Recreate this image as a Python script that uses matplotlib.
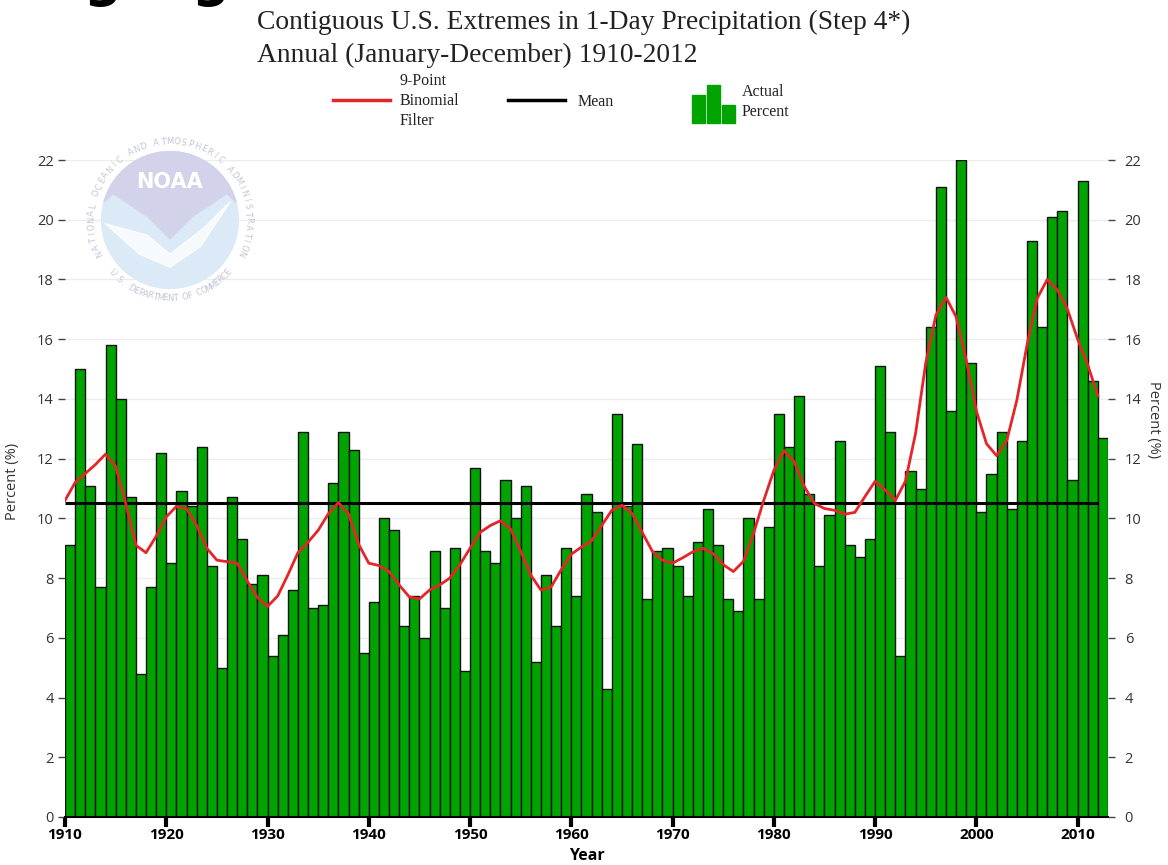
import numpy as np
import matplotlib
matplotlib.use("Agg")
import matplotlib.pyplot as plt
from matplotlib.patches import Circle, Polygon, Rectangle
from matplotlib.lines import Line2D

# annual percent of the contiguous U.S. in extreme 1-day precipitation
years = list(range(1910, 2013))
actual_pct = [
    9.1, 15.0, 11.1, 7.7, 15.8, 14.0, 10.7, 4.8, 7.7, 12.2,
    8.5, 10.9, 10.4, 12.4, 8.4, 5.0, 10.7, 9.3, 7.8, 8.1,
    5.4, 6.1, 7.6, 12.9, 7.0, 7.1, 11.2, 12.9, 12.3, 5.5,
    7.2, 10.0, 9.6, 6.4, 7.4, 6.0, 8.9, 7.0, 9.0, 4.9,
    11.7, 8.9, 8.5, 11.3, 10.0, 11.1, 5.2, 8.1, 6.4, 9.0,
    7.4, 10.8, 10.2, 4.3, 13.5, 10.4, 12.5, 7.3, 8.9, 9.0,
    8.4, 7.4, 9.2, 10.3, 9.1, 7.3, 6.9, 10.0, 7.3, 9.7,
    13.5, 12.4, 14.1, 10.8, 8.4, 10.1, 12.6, 9.1, 8.7, 9.3,
    15.1, 12.9, 5.4, 11.6, 11.0, 16.4, 21.1, 13.6, 22.0, 15.2,
    10.2, 11.5, 12.9, 10.3, 12.6, 19.3, 16.4, 20.1, 20.3, 11.3,
    21.3, 14.6, 12.7,
]
# 9-point binomial filter
filter_pct = [
    10.6, 11.2, 11.5, 11.8, 12.15, 11.75, 10.5, 9.1, 8.85, 9.4,
    10.05, 10.4, 10.33, 9.76, 9.0, 8.6, 8.55, 8.5, 7.9, 7.35,
    7.05, 7.4, 8.1, 8.85, 9.2, 9.6, 10.15, 10.53, 10.15, 9.13,
    8.5, 8.42, 8.22, 7.77, 7.37, 7.3, 7.6, 7.77, 8.0, 8.45,
    9.0, 9.53, 9.76, 9.92, 9.65, 8.9, 8.1, 7.6, 7.7, 8.28,
    8.8, 9.04, 9.25, 9.76, 10.27, 10.44, 10.16, 9.53, 8.9, 8.6,
    8.5, 8.68, 8.88, 9.0, 8.82, 8.45, 8.22, 8.56, 9.5, 10.6,
    11.6, 12.27, 11.9, 11.07, 10.5, 10.33, 10.27, 10.14, 10.2, 10.73,
    11.24, 10.95, 10.6, 11.25, 12.85, 15.2, 16.8, 17.4, 16.75, 15.3,
    13.6, 12.5, 12.1, 12.6, 13.96, 15.8, 17.36, 18.0, 17.65, 17.0,
    16.0, 15.14, 14.1,
]
mean_pct = 10.5
xticks = list(range(1910, 2011, 10))
yticks = list(range(0, 23, 2))

BAR_GREEN = "#00a300"
RED = "#e3262a"
SERIF = "Liberation Serif"
SANS = "Open Sans"

fig = plt.figure(figsize=(11.68, 8.65), dpi=100)
W, H = 1168.0, 865.0

ax = fig.add_axes([65 / W, 1 - 817 / H, (1108 - 65) / W, (817 - 160) / H])
ax.bar(years, actual_pct, width=1.0, align="edge", color=BAR_GREEN,
       edgecolor="#111111", linewidth=1.0, zorder=2)
ax.hlines(mean_pct, years[0], years[-1], color="black", linewidth=2.2, zorder=4)
ax.plot(years, filter_pct, color=RED, linewidth=2.0, zorder=5)

ax.set_xlim(1910, 2013)
ax.set_ylim(0, 22)
ax.set_xticks(xticks)
ax.set_yticks(yticks)
ax.grid(axis="y", color="#ececec", linewidth=1.0, zorder=0)
ax.set_axisbelow(True)

for side in ["left", "right", "top"]:
    ax.spines[side].set_visible(False)
ax.spines["bottom"].set_color("black")
ax.spines["bottom"].set_linewidth(1.5)

ax.tick_params(axis="x", direction="out", length=7, width=3, color="black",
               pad=1, labelsize=11)
for lab in ax.get_xticklabels():
    lab.set_fontfamily(SANS)
    lab.set_fontweight("bold")
ax.tick_params(axis="y", direction="out", length=5, width=1, color="#444444",
               labelsize=10.5, labelcolor="#333333", pad=3)
for lab in ax.get_yticklabels():
    lab.set_fontfamily(SANS)

ax.set_xlabel("Year", fontfamily=SANS, fontweight="bold", fontsize=11.5)
ax.xaxis.set_label_coords(0.5, -0.047)
ax.set_ylabel("Percent (%)", fontfamily=SANS, fontsize=10.5, color="#333333")
ax.yaxis.set_label_coords(-0.043, 0.51)

ax2 = ax.twinx()
ax2.set_ylim(0, 22)
ax2.set_yticks(yticks)
for side in ["left", "right", "top", "bottom"]:
    ax2.spines[side].set_visible(False)
ax2.tick_params(axis="y", direction="out", length=5, width=1, color="#444444",
                labelsize=10.5, labelcolor="#333333", pad=7)
for lab in ax2.get_yticklabels():
    lab.set_fontfamily(SANS)
ax2.set_ylabel("Percent (%)", fontfamily=SANS, fontsize=10.5, color="#333333",
               rotation=270, labelpad=14)
ax2.yaxis.set_label_coords(1.051, 0.605)

# titles
fig.text(257 / W, 1 - 22 / H, "Contiguous U.S. Extremes in 1-Day Precipitation (Step 4*)",
         fontfamily=SERIF, fontsize=19.8, va="center", ha="left", color="#222222")
fig.text(257 / W, 1 - 55 / H, "Annual (January-December) 1910-2012",
         fontfamily=SERIF, fontsize=19.8, va="center", ha="left", color="#222222")

# cut-off heading above the chart
for xp in (84, 192):
    fig.text(xp / W, 1 + 4 / H, "g", fontfamily="DejaVu Sans", fontweight="bold",
             fontsize=38, va="baseline", ha="left", color="black")

# legend
fig.add_artist(Line2D([333 / W, 390 / W], [1 - 100 / H] * 2, color=RED, linewidth=2.5))
fig.text(400 / W, 1 - 101 / H, "9-Point\nBinomial\nFilter", fontfamily=SERIF,
         fontsize=11.5, va="center", ha="left", linespacing=1.3, color="#222222")
fig.add_artist(Line2D([508 / W, 565 / W], [1 - 100 / H] * 2, color="black", linewidth=2.5))
fig.text(578 / W, 1 - 102 / H, "Mean", fontfamily=SERIF, fontsize=11.5,
         va="center", ha="left", color="#222222")
for bx, bh in [(692, 28), (707, 38), (722, 18)]:
    fig.add_artist(Rectangle((bx / W, 1 - 123 / H), 13 / W, bh / H,
                             transform=fig.transFigure, color=BAR_GREEN))
fig.text(742 / W, 1 - 102 / H, "Actual\nPercent", fontfamily=SERIF, fontsize=11.5,
         va="center", ha="left", linespacing=1.3, color="#222222")

# faint NOAA watermark
logo = fig.add_axes([(170 - 95) / W, 1 - (220 + 95) / H, 190 / W, 190 / H], zorder=3)
logo.set_xlim(-1.25, 1.25)
logo.set_ylim(-1.25, 1.25)
logo.set_aspect("equal")
logo.axis("off")
logo.patch.set_alpha(0)
logo.add_patch(Circle((0, 0), 0.9, color="#dbeaf6", zorder=1))
t = np.linspace(np.deg2rad(15), np.deg2rad(165), 60)
cap = list(zip(0.9 * np.cos(t), 0.9 * np.sin(t)))
cap += [(-0.75, 0.35), (-0.3, 0.05), (0.0, -0.25), (0.3, 0.05), (0.75, 0.35)]
logo.add_patch(Polygon(cap, closed=True, color="#d2d3ea", zorder=2))
wing = [(-0.85, -0.05), (-0.3, -0.2), (0.0, -0.45), (0.45, -0.1), (0.8, 0.25),
        (0.4, -0.35), (0.0, -0.62), (-0.4, -0.45)]
logo.add_patch(Polygon(wing, closed=True, color="white", alpha=0.8, zorder=3))
logo.text(0, 0.5, "NOAA", color="white", fontsize=15, fontweight="bold",
          fontfamily="DejaVu Sans", ha="center", va="center", zorder=4)
top_txt = "NATIONAL OCEANIC AND ATMOSPHERIC ADMINISTRATION"
angs = np.linspace(np.deg2rad(205), np.deg2rad(-25), len(top_txt))
for ch, a in zip(top_txt, angs):
    logo.text(1.03 * np.cos(a), 1.03 * np.sin(a), ch, fontsize=6, color="#c4c6d8",
              rotation=np.rad2deg(a) - 90, ha="center", va="center")
bot_txt = "U.S. DEPARTMENT OF COMMERCE"
angs = np.linspace(np.deg2rad(222), np.deg2rad(318), len(bot_txt))
for ch, a in zip(bot_txt, angs):
    logo.text(1.03 * np.cos(a), 1.03 * np.sin(a), ch, fontsize=6, color="#c4c6d8",
              rotation=np.rad2deg(a) + 90, ha="center", va="center")

fig.savefig("out.png", dpi=100)
